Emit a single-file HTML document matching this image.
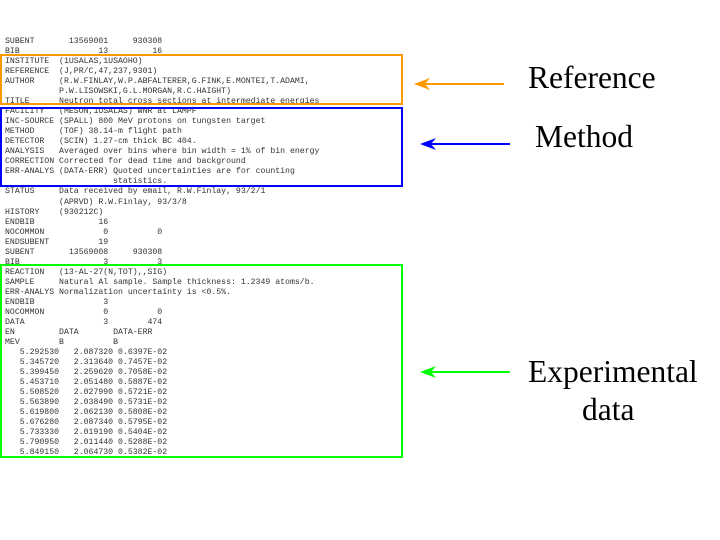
<!DOCTYPE html>
<html><head><meta charset="utf-8"><style>
html,body{margin:0;padding:0;background:#fff;width:720px;height:540px;overflow:hidden;position:relative}
pre{position:absolute;left:5px;top:37px;margin:0;font-family:"Liberation Mono",monospace;font-size:8.2px;line-height:10.03px;color:#333}
.box{position:absolute;box-sizing:border-box;border:2px solid}
.lbl{position:absolute;font-family:"Liberation Serif",serif;font-size:31.5px;color:#000;line-height:1;white-space:nowrap}
</style></head><body>
<pre>SUBENT       13569001     930308
BIB                13         16
INSTITUTE  (1USALAS,1USAOHO)
REFERENCE  (J,PR/C,47,237,9301)
AUTHOR     (R.W.FINLAY,W.P.ABFALTERER,G.FINK,E.MONTEI,T.ADAMI,
           P.W.LISOWSKI,G.L.MORGAN,R.C.HAIGHT)
TITLE      Neutron total cross sections at intermediate energies
FACILITY   (MESON,1USALAS) WNR at LAMPF
INC-SOURCE (SPALL) 800 MeV protons on tungsten target
METHOD     (TOF) 38.14-m flight path
DETECTOR   (SCIN) 1.27-cm thick BC 404.
ANALYSIS   Averaged over bins where bin width = 1% of bin energy
CORRECTION Corrected for dead time and background
ERR-ANALYS (DATA-ERR) Quoted uncertainties are for counting
                      statistics.
STATUS     Data received by email, R.W.Finlay, 93/2/1
           (APRVD) R.W.Finlay, 93/3/8
HISTORY    (930212C)
ENDBIB             16
NOCOMMON            0          0
ENDSUBENT          19
SUBENT       13569008     930308
BIB                 3          3
REACTION   (13-AL-27(N,TOT),,SIG)
SAMPLE     Natural Al sample. Sample thickness: 1.2349 atoms/b.
ERR-ANALYS Normalization uncertainty is &lt;0.5%.
ENDBIB              3
NOCOMMON            0          0
DATA                3        474
EN         DATA       DATA-ERR
MEV        B          B
   5.292530   2.087320 0.6397E-02
   5.345720   2.313640 0.7457E-02
   5.399450   2.259620 0.7058E-02
   5.453710   2.051480 0.5887E-02
   5.508520   2.027990 0.5721E-02
   5.563890   2.038490 0.5731E-02
   5.619800   2.062130 0.5808E-02
   5.676280   2.087340 0.5795E-02
   5.733330   2.019190 0.5404E-02
   5.790950   2.011440 0.5288E-02
   5.849150   2.064730 0.5382E-02</pre>
<div class="box" style="left:0;top:54px;width:403px;height:51px;border-color:#ff9900"></div>
<div class="box" style="left:0;top:107px;width:403px;height:80px;border-color:#0000ff"></div>
<div class="box" style="left:0;top:264px;width:403px;height:194px;border-color:#00ff00"></div>
<svg width="720" height="540" style="position:absolute;left:0;top:0">
<line x1="418" y1="84" x2="504" y2="84" stroke="#ff9900" stroke-width="2"/>
<polygon points="414,84 430,78 425,84 430,90" fill="#ff9900"/>
<line x1="424" y1="144" x2="510" y2="144" stroke="#0000ff" stroke-width="2"/>
<polygon points="420,144 436,138 431,144 436,150" fill="#0000ff"/>
<line x1="424" y1="372" x2="510" y2="372" stroke="#00ff00" stroke-width="2"/>
<polygon points="420,372 436,366 431,372 436,378" fill="#00ff00"/>
</svg>
<div class="lbl" style="left:528px;top:62px">Reference</div>
<div class="lbl" style="left:535px;top:121px">Method</div>
<div class="lbl" style="left:528px;top:356px">Experimental</div>
<div class="lbl" style="left:582px;top:394px">data</div>
</body></html>
